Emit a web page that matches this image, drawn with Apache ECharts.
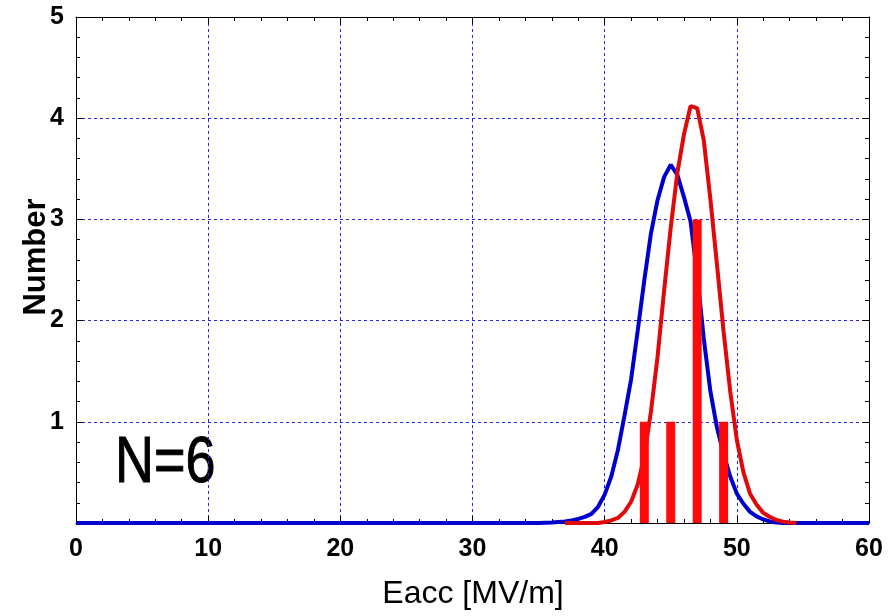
<!DOCTYPE html>
<html>
<head>
<meta charset="utf-8">
<style>
  html, body { margin: 0; padding: 0; background: #ffffff; }
  #chart { width: 891px; height: 616px; }
</style>
<script src="https://cdn.jsdelivr.net/npm/echarts@6/dist/echarts.min.js"></script>
</head>
<body>
<div id="chart"></div>
<script>
// Histogram of measured Eacc values (bin centres, counts)
const binCentres = [43, 45, 47, 49];
const binCounts  = [1, 1, 3, 1];

// Fitted distribution, blue curve (Eacc, number)
const blueX = [0, 35, 35.5, 36, 36.5, 37, 37.5, 38, 38.5, 39, 39.5, 40, 40.5, 41, 41.5, 42, 42.5,
  43, 43.5, 44, 44.5, 45, 45.5, 46, 46.5, 47, 47.5, 48, 48.5, 49, 49.5, 50, 50.5, 51, 51.5,
  52, 52.5, 53, 53.5, 60];
const blueY = [0, 0, 0.003, 0.005, 0.01, 0.015, 0.025, 0.04, 0.06, 0.09, 0.16, 0.28, 0.46, 0.72, 1.06,
  1.42, 1.90, 2.40, 2.86, 3.19, 3.42, 3.54, 3.44, 3.22, 2.98, 2.45, 1.82, 1.30, 0.94, 0.68, 0.46,
  0.29, 0.19, 0.11, 0.065, 0.035, 0.015, 0.005, 0, 0];

// Fitted distribution, red curve (Eacc, number)
const redX = [37, 39.5, 40, 40.5, 41, 41.5, 42, 42.5, 43, 43.5, 44, 44.5, 45, 45.5, 46, 46.5, 47,
  47.5, 48, 48.5, 49, 49.5, 50, 50.5, 51, 51.5, 52, 52.5, 53, 53.5, 54, 54.5];
const redY = [0, 0, 0.01, 0.025, 0.05, 0.11, 0.21, 0.38, 0.66, 1.10, 1.64, 2.30, 2.92, 3.46, 3.84,
  4.12, 4.10, 3.78, 3.20, 2.55, 1.89, 1.30, 0.82, 0.50, 0.29, 0.18, 0.10, 0.06, 0.03, 0.013, 0.005, 0];

const xTicks = { min: 0, max: 60, interval: 10 };
const yTicks = { min: 0, max: 5, interval: 1 };

const zip = (xs, ys) => xs.map((x, i) => [x, ys[i]]);

const gridBlue = '#2626e6';
const sans = 'Liberation Sans, Arial, sans-serif';
const tickFont = { fontFamily: sans, fontWeight: 'bold', fontSize: 25, color: '#000' };

const chart = echarts.init(document.getElementById('chart'), null, { renderer: 'canvas' });

// shared frame styling: ticks drawn inward on all four sides
const frameAxis = {
  axisLine: { show: true, onZero: false, lineStyle: { color: '#000', width: 1 } },
  axisTick: { show: true, inside: true, length: 7, lineStyle: { color: '#000', width: 1 } },
  minorTick: { show: true, splitNumber: 5, length: 4, lineStyle: { color: '#000', width: 1 } },
};

chart.setOption({
  animation: false,
  backgroundColor: '#ffffff',
  grid: { left: 76, right: 22, top: 17, bottom: 93, containLabel: false },
  xAxis: [
    Object.assign({
      type: 'value', position: 'bottom',
      min: xTicks.min, max: xTicks.max, interval: xTicks.interval,
      axisLabel: Object.assign({ margin: 14 }, tickFont),
      splitLine: { show: true, lineStyle: { color: gridBlue, width: 1, type: [3, 3] } },
    }, frameAxis),
    Object.assign({
      type: 'value', position: 'top',
      min: xTicks.min, max: xTicks.max, interval: xTicks.interval,
      axisLabel: { show: false },
      splitLine: { show: false },
    }, frameAxis),
  ],
  yAxis: [
    Object.assign({
      type: 'value', position: 'left',
      min: yTicks.min, max: yTicks.max, interval: yTicks.interval,
      axisLabel: Object.assign({ margin: 12, formatter: v => (v === 0 ? '' : String(v)) }, tickFont),
      splitLine: { show: true, lineStyle: { color: gridBlue, width: 1, type: [3, 3] } },
    }, frameAxis),
    Object.assign({
      type: 'value', position: 'right',
      min: yTicks.min, max: yTicks.max, interval: yTicks.interval,
      axisLabel: { show: false },
      splitLine: { show: false },
    }, frameAxis),
  ],
  graphic: [
    {
      type: 'text', x: 473, y: 578,
      style: { text: 'Eacc [MV/m]', fontFamily: sans, fontSize: 32, fill: '#000', align: 'center', verticalAlign: 'top' },
    },
    {
      type: 'text', x: 21, y: 257, rotation: Math.PI / 2,
      style: { text: 'Number', fontFamily: sans, fontWeight: 'bold', fontSize: 31,
               fill: '#000', align: 'center', verticalAlign: 'top' },
    },
    {
      type: 'text', x: 115, y: 432, scaleX: 0.83,
      style: { text: 'N=6', fontFamily: sans, fontSize: 65, fill: '#000', stroke: '#000', lineWidth: 1 },
    },
  ],
  series: [
    {
      type: 'line', xAxisIndex: 0, yAxisIndex: 0,
      data: zip(blueX, blueY),
      showSymbol: false, smooth: false, clip: false,
      lineStyle: { color: '#0000cc', width: 4 },
      z: 3,
    },
    {
      type: 'line', xAxisIndex: 0, yAxisIndex: 0,
      data: zip(redX, redY),
      showSymbol: false, smooth: false, clip: false,
      lineStyle: { color: '#e00808', width: 4 },
      z: 4,
    },
    {
      type: 'bar', xAxisIndex: 0, yAxisIndex: 0,
      data: zip(binCentres, binCounts),
      barWidth: 9,
      itemStyle: { color: '#ff0a0a' },
      z: 5,
    },
  ],
});
</script>
</body>
</html>
